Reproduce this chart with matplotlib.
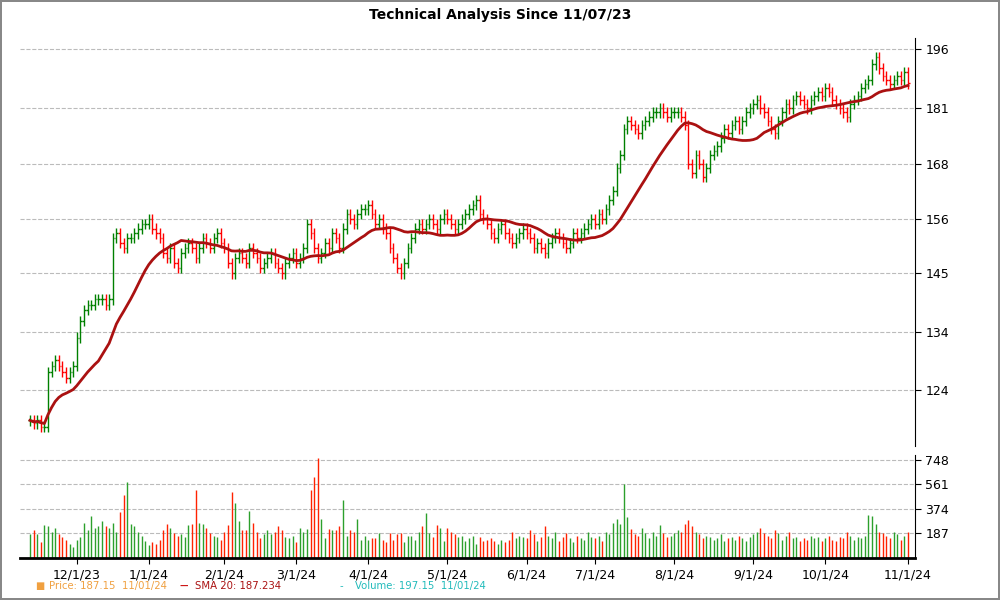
import numpy as np
import pandas as pd
import matplotlib
matplotlib.use('Agg')
import matplotlib.pyplot as plt
from matplotlib.ticker import FixedLocator, NullLocator

# daily closes per month
nov23 = [119, 118.5, 119, 118, 118, 127, 128, 129, 128, 127, 126, 127, 128]
dec23 = [133, 136, 138, 139, 139, 140, 140, 140, 139, 140, 152, 153, 151, 150, 152, 152, 153, 154, 155, 155]
jan24 = [156, 154, 153, 152, 149, 148, 150, 147, 146, 149, 150, 151, 150, 148, 150, 152, 151, 150, 152, 153, 151]
feb24 = [150, 147, 145, 148, 149, 148, 147, 150, 149, 148, 146, 147, 148, 149, 147, 146, 145, 147, 148, 149]
mar24 = [147, 148, 150, 155, 153, 150, 148, 149, 151, 150, 153, 152, 150, 154, 157, 156, 155, 157, 158, 158]
apr24 = [159, 157, 155, 156, 154, 153, 150, 148, 146, 145, 147, 150, 152, 154, 155, 154, 155, 156, 155, 154, 156, 157]
may24 = [156, 155, 154, 155, 156, 157, 158, 159, 160, 157, 156, 155, 153, 152, 154, 155, 153, 152, 151, 152, 153, 154]
jun24 = [153, 152, 150, 151, 150, 149, 151, 152, 153, 152, 151, 150, 151, 153, 152, 153, 154, 155, 156]
jul24 = [155, 157, 156, 158, 160, 162, 167, 170, 176, 178, 177, 176, 175, 177, 178, 179, 180, 180, 181, 180, 179, 180]
aug24 = [180, 180, 179, 177, 168, 166, 170, 168, 165, 167, 170, 171, 172, 174, 176, 175, 177, 178, 176, 178, 180, 181]
sep24 = [182, 183, 181, 180, 178, 176, 175, 178, 180, 182, 181, 183, 184, 183, 182, 181, 183, 184, 185, 184]
oct24 = [186, 185, 183, 182, 181, 180, 179, 182, 183, 184, 186, 187, 188, 192, 194, 191, 189, 188, 187, 188, 189, 188, 190]
nov24 = [187.15]

vol_nov23 = [180, 210, 180, 120, 250, 240, 200, 230, 180, 160, 140, 110, 80]
vol_dec23 = [140, 160, 270, 210, 320, 230, 240, 280, 240, 230, 270, 200, 350, 480, 580, 260, 240, 200, 170, 130]
vol_jan24 = [100, 120, 110, 140, 210, 260, 230, 190, 170, 180, 160, 250, 260, 520, 270, 260, 230, 190, 170, 160, 140]
vol_feb24 = [200, 250, 500, 420, 280, 210, 210, 360, 270, 200, 150, 180, 210, 180, 200, 240, 210, 160, 150, 170]
vol_mar24 = [120, 230, 200, 220, 520, 620, 760, 300, 150, 220, 210, 210, 240, 440, 170, 210, 200, 300, 140, 170]
vol_apr24 = [140, 150, 150, 190, 140, 120, 190, 140, 180, 190, 120, 170, 170, 140, 200, 240, 340, 190, 160, 250, 230, 130]
vol_may24 = [230, 200, 180, 160, 170, 130, 150, 170, 110, 160, 130, 140, 150, 130, 110, 140, 120, 140, 200, 150, 170, 160]
vol_jun24 = [150, 210, 180, 130, 160, 240, 170, 150, 200, 130, 160, 190, 150, 120, 170, 150, 140, 200, 160]
vol_jul24 = [150, 170, 130, 200, 180, 270, 300, 260, 560, 310, 220, 180, 170, 230, 190, 150, 200, 170, 250, 190, 160, 170]
vol_aug24 = [190, 210, 200, 260, 290, 240, 200, 180, 150, 170, 160, 140, 150, 180, 130, 150, 160, 140, 170, 150, 130, 160]
vol_sep24 = [180, 200, 230, 190, 170, 150, 210, 190, 140, 170, 200, 150, 160, 130, 150, 140, 170, 150, 160, 130]
vol_oct24 = [150, 170, 140, 130, 160, 150, 200, 170, 140, 160, 150, 170, 330, 320, 260, 200, 190, 170, 150, 200, 180, 140, 170]
vol_nov24 = [197]

closes = np.array(nov23 + dec23 + jan24 + feb24 + mar24 + apr24 + may24 + jun24
                  + jul24 + aug24 + sep24 + oct24 + nov24, dtype=float)
volume = np.array(vol_nov23 + vol_dec23 + vol_jan24 + vol_feb24 + vol_mar24 + vol_apr24
                  + vol_may24 + vol_jun24 + vol_jul24 + vol_aug24 + vol_sep24 + vol_oct24
                  + vol_nov24, dtype=float)

holidays = ['2023-11-23', '2023-12-25', '2024-01-01', '2024-01-15', '2024-02-19',
            '2024-03-29', '2024-05-27', '2024-06-19', '2024-07-04', '2024-09-02']
dates = pd.bdate_range('2023-11-13', '2024-11-01')
dates = dates[~dates.isin(pd.to_datetime(holidays))]
assert len(dates) == len(closes) == len(volume)

n = len(closes)
idx = np.arange(n)
opens = np.concatenate([[closes[0]], closes[:-1]])
highs = np.maximum(opens, closes) * 1.007
lows = np.minimum(opens, closes) * 0.993
sma = pd.Series(closes).rolling(20, min_periods=1).mean()
up = closes >= opens
cols = np.where(up, 'green', 'red')
vcols = np.where(up, '#2ca02c', '#ff2200')

fig = plt.figure(figsize=(10, 6), dpi=100)
fig.patch.set_edgecolor('#888888')
fig.patch.set_linewidth(1.5)

ax = fig.add_axes([0.02, 0.257, 0.895, 0.68])
ax.set_yscale('log')
ax.set_ylim(115, 199)
ax.vlines(idx, lows, highs, colors=cols, lw=1)
ax.hlines(opens, idx - 0.45, idx, colors=cols, lw=1)
ax.hlines(closes, idx, idx + 0.45, colors=cols, lw=1)
ax.plot(idx, sma, color='#aa1111', lw=2)

step = (908 - 30) / (n - 1)
xlo = -10 / step
xhi = (n - 1) + 7 / step
ax.set_xlim(xlo, xhi)

yt = [124, 134, 145, 156, 168, 181, 196]
ax.yaxis.set_major_locator(FixedLocator(yt))
ax.yaxis.set_minor_locator(NullLocator())
ax.set_yticklabels([str(v) for v in yt])
ax.yaxis.tick_right()
ax.grid(axis='y', color='#bbbbbb', ls='--', lw=0.8)
ax.set_xticks([])
for s in ['top', 'left', 'bottom']:
    ax.spines[s].set_visible(False)
ax.tick_params(axis='y', labelsize=9, length=4)

vax = fig.add_axes([0.02, 0.07, 0.895, 0.172])
vax.vlines(idx, 0, volume, colors=vcols, lw=1)
vax.set_ylim(0, 786)
vax.set_xlim(xlo, xhi)
vt = [187, 374, 561, 748]
vax.set_yticks(vt)
vax.set_yticklabels([str(v) for v in vt])
vax.yaxis.tick_right()
vax.grid(axis='y', color='#bbbbbb', ls='--', lw=0.8)
for s in ['top', 'left']:
    vax.spines[s].set_visible(False)
vax.spines['bottom'].set_linewidth(2)
vax.tick_params(axis='y', labelsize=9, length=4)

months = pd.Series(dates.to_period('M'))
first = [i for i in range(1, n) if months[i] != months[i - 1]]
vax.set_xticks(first)
vax.set_xticklabels([f"{dates[i].month}/1/{dates[i].strftime('%y')}" for i in first])
vax.tick_params(axis='x', labelsize=9, length=4)

fig.text(0.5, 0.975, 'Technical Analysis Since 11/07/23', ha='center', va='center',
         fontsize=10, fontweight='bold')
fig.text(0.035, 0.023, '\u25a0', color='#f0a040', fontsize=7, va='center')
fig.text(0.049, 0.023, 'Price: 187.15  11/01/24', color='#f0a040', fontsize=7.3, va='center')
fig.text(0.180, 0.023, '\u2014', color='#cc1111', fontsize=6, va='center', fontweight='bold')
fig.text(0.195, 0.023, 'SMA 20: 187.234', color='#aa1111', fontsize=7.3, va='center')
fig.text(0.339, 0.023, '-', color='#22bbbb', fontsize=7.3, va='center')
fig.text(0.341 + 0.0135, 0.023, 'Volume: 197.15  11/01/24', color='#22bbbb', fontsize=7.3, va='center')

fig.savefig('out.png', dpi=100, edgecolor=fig.get_edgecolor())
